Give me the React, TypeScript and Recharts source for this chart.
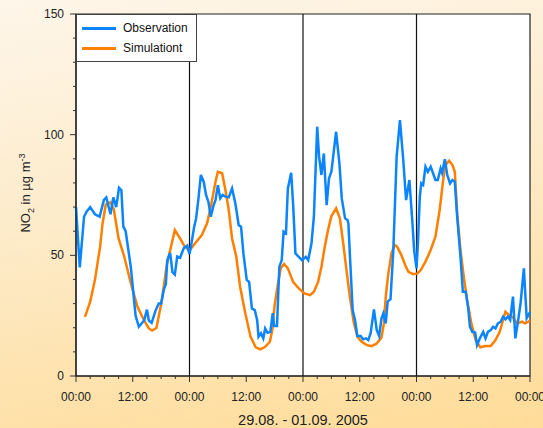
import {
  LineChart,
  Line,
  XAxis,
  YAxis,
  CartesianGrid,
  ReferenceLine,
  ReferenceArea,
} from "recharts";

// hours since 29.08. 00:00
const obsTime = [
  0, 0.8, 1.7, 2.2, 3, 4, 5, 5.9, 6.4, 7.3, 7.9, 8.5, 9.1, 9.6, 10, 10.5, 11.6, 12.6, 13.3, 14.4,
  15, 15.4, 16, 16.8, 17.5, 18, 18.6, 19, 19.3, 19.9, 20.4, 20.9, 21.4, 22, 22.8, 23.5, 24, 24.3,
  25, 25.4, 25.9, 26.4, 27, 27.5, 28, 28.5, 29.1, 29.5, 30, 30.5, 31, 31.6, 32.3, 33, 33.7, 34.4,
  34.9, 35.4, 36.1, 36.6, 37.2, 37.8, 38.3, 38.6, 39.1, 39.6, 40, 40.5, 41.1, 41.6, 41.9, 42.5,
  43, 43.5, 43.9, 44.4, 44.8, 45.5, 45.9, 46.4, 47.1, 47.8, 48.6, 49.1, 49.8, 50.3, 51, 51.4,
  51.9, 52.4, 53, 53.5, 54, 55, 55.7, 56.2, 56.9, 57.4, 57.6, 57.9, 58.5, 59, 59.5, 60.2, 60.7,
  61.3, 61.8, 62.3, 63, 63.6, 64.1, 64.6, 65, 65.5, 65.9, 66.5, 67.1, 67.8, 68.5, 69.2, 69.8,
  70.5, 71.1, 71.5, 72, 72.3, 72.7, 73, 73.4, 73.9, 74.4, 75, 75.5, 76, 76.5, 77.1, 77.4, 78,
  78.5, 79.1, 79.6, 80.1, 80.6, 81.3, 81.8, 82.4, 82.9, 83.3, 83.8, 84.4, 84.8, 85.4, 86.1, 86.6,
  87.1, 87.7, 88.2, 88.7, 89.2, 89.8, 90.3, 90.8, 91.3, 91.8, 92.4, 92.9, 93.4, 94, 94.7, 95.3, 96,
];
const obsNO2 = [
  70, 45, 66, 68, 70, 67, 66, 73, 74, 67, 74, 70, 78, 77, 62, 60, 45, 25, 20.4, 23,
  27.5, 23, 22, 27, 30, 30, 36, 38, 48, 51, 43, 42, 49.5, 49, 53, 54, 50.5, 53.6,
  61.9, 65.3, 73.6, 83.3, 80.5, 75, 72.2, 66, 70.8, 72.9, 79.1, 73.6, 75, 74.3, 74, 77.7, 71.5, 62.5,
  61.9, 50.8, 39.8, 39, 28, 27.3, 23.2, 16.3, 17.7, 15.6, 19.7, 17.9, 18.3, 26, 20.7, 20.7,
  45.3, 48, 59.8, 59.1, 77.7, 84.2, 71.5, 50.8, 49.4, 48, 49.4, 48, 55, 66, 103.3, 90.9,
  83.3, 92.2, 70.8, 81.9, 84.6, 101.2, 88.1, 73.6, 65.3, 64.6, 63.2, 50.8, 27.3, 23.2, 16.6, 16.6, 15.2,
  15.6, 14.9, 17.7, 27.6, 19, 16.6, 23.9, 26, 21.8, 30.8, 31.8, 52.2, 90.9, 106, 89.5, 72.9,
  81.2, 64.6, 52.2, 44.6, 55, 74.3, 79.8, 79.1, 86.7, 84.6, 86.7, 84, 81.2, 81.2, 86, 84.2, 89.8,
  83.3, 79.8, 81.2, 80.5, 66, 49.4, 34.9, 34.9, 28.7, 20.4, 18.3, 18, 12.8, 15.6, 18.3, 15.6,
  18.3, 19, 20.4, 19.7, 21.8, 22.5, 24.6, 23.5, 24.6, 23.2, 32.9, 15.6, 21.8, 30, 44.6, 24, 26.5,
];

const simTime = [
  1.9, 3, 4, 5.1, 5.6, 6.3, 7.3, 8, 9, 10.2, 11.6, 13, 14.4, 15.4, 16.1, 17, 18.1, 19.2, 20.9, 22,
  23, 24, 25.2, 26.6, 27.7, 28.5, 29.5, 30, 30.9, 31.6, 32.3, 33, 33.9, 34.7, 35.8, 36.9, 38, 39,
  40, 41, 41.5, 42, 42.6, 43.3, 44, 44.8, 45.9, 47.1, 48.3, 49.5, 50.3, 51.2, 51.9, 52.6, 53.3,
  54, 55, 55.8, 56.5, 57.2, 57.9, 58.7, 59.5, 60.4, 61.5, 62.5, 63.6, 64.6, 65.1, 65.5, 66, 66.7,
  67.4, 67.9, 68.8, 69.6, 70.3, 71.3, 72.2, 72.9, 73.9, 75, 76, 76.9, 77.6, 78.1, 78.9, 79.6,
  80.1, 80.6, 81.3, 82, 82.7, 83.6, 84.5, 85.5, 86.6, 87.7, 88.7, 89.6, 90.3, 90.8, 91.5, 92.2,
  93.3, 94.3, 95, 96,
];
const simNO2 = [
  24.5, 30.8, 39.8, 53.6, 63, 71, 72, 69, 57, 49.5, 38.4, 28.7, 23, 19.7, 18.8, 19.9, 30.8, 46, 60.5, 57,
  53.6, 52, 55, 58.4, 63.2, 70.1, 80.5, 84.6, 84, 77, 68.8, 57, 49.4, 37, 26, 16.3, 11.9, 11,
  12.1, 14.2, 19, 29.4, 37, 44.6, 46.4, 44.6, 39, 36.3, 34.2, 33.5, 34.9, 39, 45.3, 53.6, 60.5,
  66.3, 69.5, 65.3, 55, 43.9, 32.9, 22.5, 16.3, 14.2, 12.8, 12.4, 13.5, 16, 21.8, 32.9, 41.8, 50.8,
  54.3, 53.6, 50.1, 46, 43.2, 42.2, 42.5, 43.9, 47.4, 52.2, 57.7, 68.8, 80.5, 87.4, 89.2, 87.4,
  84.6, 67.4, 52.2, 41.1, 31.5, 21.8, 14.9, 11.9, 12.4, 12.4, 14.9, 18.3, 23.2, 26.6, 25.3, 24.6,
  21.8, 22.5, 21.8, 22.9,
];

const xTicks = Array.from({ length: 33 }, (_, i) => i * 3);
const yTicks = Array.from({ length: 16 }, (_, i) => i * 10);
const dayBreaks = [24, 48, 72];
const seriesNames = ["Observation", "Simulationt"];

const obsData = obsTime.map((t, i) => ({ t, v: obsNO2[i] }));
const simData = simTime.map((t, i) => ({ t, v: simNO2[i] }));

const FONT = "'Liberation Sans', Arial, sans-serif";
const BLUE = "#0A84FF";
const ORANGE = "#FF8000";

const XTick = (props: any) => {
  const { x, y, payload } = props;
  const major = payload.value % 12 === 0;
  const h = payload.value % 24;
  return (
    <g>
      <line x1={x} x2={x} y1={y} y2={y + (major ? 6 : 3)} stroke="#333" />
      {major && (
        <text x={x} y={y + 25} textAnchor="middle" fontSize={12} fill="#222" fontFamily={FONT}>
          {h === 0 ? "00:00" : "12:00"}
        </text>
      )}
    </g>
  );
};

const YTick = (props: any) => {
  const { x, y, payload } = props;
  const major = payload.value % 50 === 0;
  return (
    <g>
      <line x1={x - (major ? 6 : 3)} x2={x} y1={y} y2={y} stroke="#333" />
      {major && (
        <text x={x - 12} y={y + 4} textAnchor="end" fontSize={12} fill="#222" fontFamily={FONT}>
          {payload.value}
        </text>
      )}
    </g>
  );
};

const LegendBox = () => (
  <div
    style={{
      position: "absolute",
      left: 76,
      top: 14,
      width: 119,
      height: 46,
      background: "#fff",
      border: "1px solid #444",
      fontFamily: FONT,
      fontSize: 12,
      color: "#111",
    }}
  >
    {[BLUE, ORANGE].map((c, i) => (
      <div key={c} style={{ display: "flex", alignItems: "center", height: 20, marginTop: i === 0 ? 3 : 0 }}>
        <div style={{ width: 34, height: 3, background: c, marginLeft: 5, marginRight: 7 }} />
        <span>{seriesNames[i]}</span>
      </div>
    ))}
  </div>
);

export default function App() {
  return (
    <div
      style={{
        position: "absolute",
        left: 0,
        top: 0,
        width: 543,
        height: 428,
        background: "linear-gradient(170deg, #FEF6EA 0%, #FDEBC9 45%, #FFDC98 100%)",
      }}
    >
      <LineChart
        width={543}
        height={428}
        margin={{ top: 14, right: 13, left: 0, bottom: 0 }}
      >
        <CartesianGrid horizontal={false} vertical={false} fill="#fff" />
        <XAxis
          dataKey="t"
          type="number"
          domain={[0, 96]}
          ticks={xTicks}
          interval={0}
          height={52}
          tickSize={0}
          tickMargin={0}
          tickLine={false}
          axisLine={{ stroke: "#111" }}
          tick={<XTick />}
          allowDuplicatedCategory={false}
          label={{
            value: "29.08. - 01.09. 2005",
            position: "insideBottom",
            offset: 3,
            fontSize: 14.5,
            fill: "#222",
            fontFamily: FONT,
          }}
        />
        <YAxis
          type="number"
          domain={[0, 150]}
          ticks={yTicks}
          interval={0}
          width={76}
          tickSize={0}
          tickMargin={0}
          tickLine={false}
          axisLine={{ stroke: "#111" }}
          tick={<YTick />}
          label={{
            content: () => (
              <text
                transform="translate(30,193) rotate(-90)"
                textAnchor="middle"
                fontSize={13}
                fill="#222"
                fontFamily={FONT}
              >
                NO
                <tspan fontSize={9} dy={4}>2</tspan>
                <tspan dy={-4}> in µg m</tspan>
                <tspan fontSize={9} dy={-5}>-3</tspan>
              </text>
            ),
          }}
        />
        <ReferenceArea x1={0} x2={96} y1={0} y2={150} fill="none" stroke="#222" strokeWidth={1.2} />
        {dayBreaks.map((d) => (
          <ReferenceLine key={d} x={d} stroke="#111" strokeWidth={1.2} />
        ))}
        <Line
          data={simData}
          dataKey="v"
          name={seriesNames[1]}
          stroke={ORANGE}
          strokeWidth={2.5}
          dot={false}
          type="linear"
          isAnimationActive={false}
        />
        <Line
          data={obsData}
          dataKey="v"
          name={seriesNames[0]}
          stroke={BLUE}
          strokeWidth={2.5}
          dot={false}
          type="linear"
          isAnimationActive={false}
        />
      </LineChart>
      <LegendBox />
    </div>
  );
}
